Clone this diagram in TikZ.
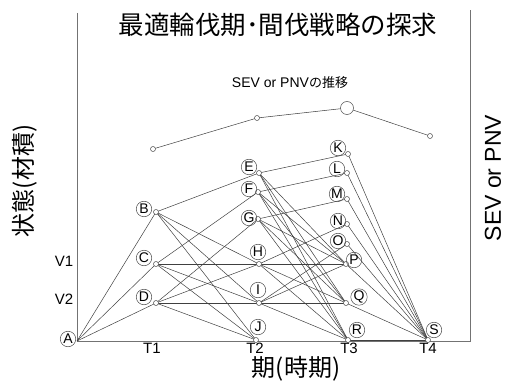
\documentclass[tikz,border=0pt]{standalone}
\usepackage{fontspec}
\setmainfont{Liberation Sans}
\newfontfamily\jpfont{Noto Sans CJK JP}
\begin{document}
\begin{tikzpicture}[x=1pt,y=-1pt,
  edge/.style={draw=black!75, line width=0.5pt},
  axisline/.style={draw=black!55, line width=0.7pt},
  pt/.style={circle, draw=black!70, fill=white, inner sep=0pt, minimum size=5pt, line width=0.5pt},
  bigpt/.style={circle, draw=black!70, fill=white, inner sep=0pt, minimum size=13pt, line width=0.5pt},
  lbl/.style={circle, draw=black!70, inner sep=0pt, minimum size=15.5pt, font=\fontsize{14}{14}\selectfont, line width=0.5pt},
  tick/.style={font=\fontsize{15}{15}\selectfont, inner sep=0pt},
  bigjp/.style={font=\jpfont\fontsize{24}{24}\selectfont, inner sep=0pt}]
\useasboundingbox (0,0) rectangle (506,382);
% axes
\coordinate (ytop) at (77,13);
\coordinate (origin) at (77,341);
\coordinate (xend) at (470,341);
\coordinate (rtop) at (470,10);
\draw[axisline] (ytop) -- (origin) -- (xend) -- (rtop);
% states
\coordinate (A) at (77,341);
\coordinate (B) at (156,212);
\coordinate (C) at (156,264);
\coordinate (D) at (156,303);
\coordinate (E) at (259,173);
\coordinate (F) at (258,192);
\coordinate (G) at (258,219);
\coordinate (H) at (259,264);
\coordinate (I) at (259,303);
\coordinate (J) at (256,340);
\coordinate (K) at (348,154);
\coordinate (L) at (347,173);
\coordinate (M) at (347,199);
\coordinate (N) at (347,224);
\coordinate (O) at (347,244);
\coordinate (P) at (346,264);
\coordinate (Q) at (346,303);
\coordinate (R) at (348,340);
\coordinate (S) at (428,340);
% edges
\foreach \a/\b in {A/B,A/C,A/D,
  B/E,B/H,B/I,B/J, C/F,C/H,C/I,C/J, D/G,D/H,D/I,D/J,
  E/K,E/P,E/Q,E/R, F/L,F/P,F/Q,F/R, G/M,G/P,G/Q,G/R,
  H/N,H/P,H/Q,H/R, I/O,I/P,I/Q,I/R,
  K/S,L/S,M/S,N/S,O/S,P/S,Q/S,R/S}
  \draw[edge] (\a) -- (\b);
% markers
\foreach \n in {B,C,D,E,F,G,H,I,J,K,L,M,N,O,P,Q,R,S}
  \node[pt] (m\n) at (\n) {};
% labels
\node[lbl] (lA) at (68,339) {A};
\node[lbl] (lB) at (144,209) {B};
\node[lbl] (lC) at (144,258) {C};
\node[lbl] (lD) at (144,297) {D};
\node[lbl] (lE) at (249,167) {E};
\node[lbl] (lF) at (249,189) {F};
\node[lbl] (lG) at (249,218) {G};
\node[lbl] (lH) at (258,252) {H};
\node[lbl] (lI) at (258,290) {I};
\node[lbl] (lJ) at (258,327) {J};
\node[lbl] (lK) at (338,148) {K};
\node[lbl] (lL) at (337,169) {L};
\node[lbl] (lM) at (337,194) {M};
\node[lbl] (lN) at (338,221) {N};
\node[lbl] (lO) at (338,241) {O};
\node[lbl] (lP) at (354,260) {P};
\node[lbl] (lQ) at (359,297) {Q};
\node[lbl] (lR) at (357,330) {R};
\node[lbl] (lS) at (434,330) {S};
% SEV curve
\coordinate (s1) at (153,149);
\coordinate (s2) at (257,118);
\coordinate (s3) at (347,108);
\coordinate (s4) at (430,136);
\draw[edge] (s1) -- (s2) -- (s3) -- (s4);
\node[pt] (ms1) at (s1) {};
\node[pt] (ms2) at (s2) {};
\node[bigpt] (ms3) at (s3) {};
\node[pt] (ms4) at (s4) {};
% texts
\node[font=\jpfont\fontsize{25.5}{25.5}\selectfont, inner sep=0pt] (title) at (278,25) {最適輪伐期･間伐戦略の探求};
\node[font=\fontsize{14}{14}\selectfont, inner sep=0pt] (sub) at (290,83) {SEV or PNV{\jpfont\fontsize{13}{13}\selectfont の推移}};
\node[bigjp, rotate=90] (ylab) at (25,181) {状態(材積)};
\node[bigjp] (xlab) at (296,369) {期(時期)};
\node[font=\fontsize{23}{23}\selectfont, inner sep=0pt, rotate=90] (rlab) at (493,178) {SEV or PNV};
\node[tick] (v1) at (64,261) {V1};
\node[tick] (v2) at (64,299) {V2};
\node[tick] (t1) at (152,348) {T1};
\node[tick] (t2) at (255,348) {T2};
\node[tick] (t3) at (349,348) {T3};
\node[tick] (t4) at (428,348) {T4};
\end{tikzpicture}
\end{document}
